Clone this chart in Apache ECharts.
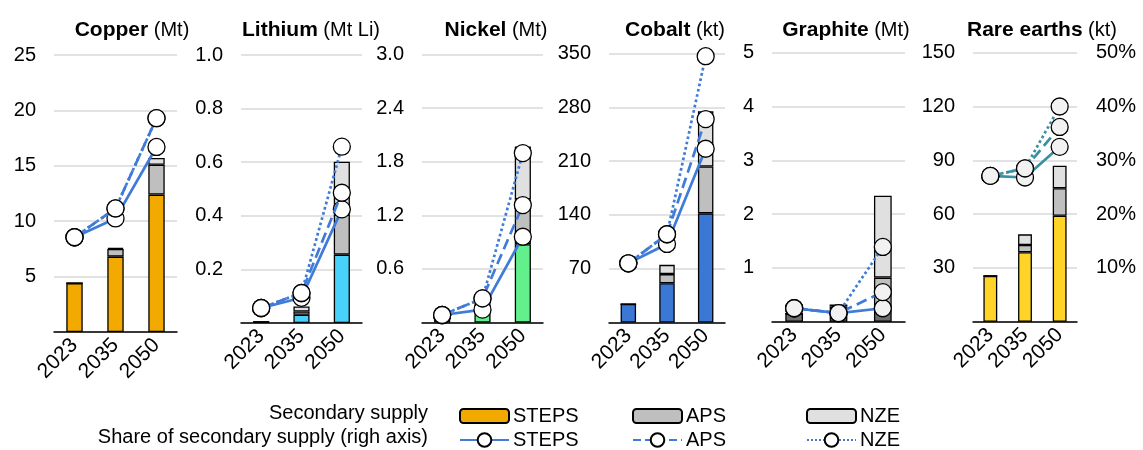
<!DOCTYPE html>
<html>
<head>
<meta charset="utf-8">
<script src="https://cdn.jsdelivr.net/npm/echarts@6/dist/echarts.min.js"></script>
<style>html,body{margin:0;padding:0;background:#fff}#c{width:1143px;height:450px}</style>
</head>
<body>
<div id="c"></div>
<script>
// ---- DATA ----
const years = ['2023', '2035', '2050'];

const copperSteps = [4.4, 6.8, 12.4];
const copperAps = [4.4, 7.5, 15.1];
const copperNze = [4.4, 7.6, 15.7];
const copperShareSteps = [17.1, 20.5, 33.4];
const copperShareAps = [17.1, 22.3, 38.6];
const copperShareNze = [17.1, 22.3, 38.6];

const lithiumSteps = [0.004, 0.031, 0.255];
const lithiumAps = [0.004, 0.043, 0.404];
const lithiumNze = [0.004, 0.062, 0.602];
const lithiumShareSteps = [2.8, 4.7, 21.2];
const lithiumShareAps = [2.8, 5.6, 24.3];
const lithiumShareNze = [2.8, 5.6, 32.9];

const nickelSteps = [0.05, 0.12, 0.877];
const nickelAps = [0.05, 0.2, 1.38];
const nickelNze = [0.05, 0.3, 1.97];
const nickelShareSteps = [1.4, 2.4, 16.0];
const nickelShareAps = [1.4, 4.5, 21.9];
const nickelShareNze = [1.4, 4.5, 31.6];

const cobaltSteps = [24, 51, 142];
const cobaltAps = [24, 63, 203];
const cobaltNze = [24, 75, 275];
const cobaltShareSteps = [11.0, 14.6, 32.3];
const cobaltShareAps = [11.0, 16.4, 37.8];
const cobaltShareNze = [11.0, 16.4, 49.5];

const graphiteSteps = [0.15, 0.22, 0.31];
const graphiteAps = [0.15, 0.28, 0.82];
const graphiteNze = [0.15, 0.32, 2.34];
const graphiteShareSteps = [2.5, 1.6, 2.5];
const graphiteShareAps = [2.5, 1.6, 5.5];
const graphiteShareNze = [2.5, 1.6, 13.9];

const reSteps = [25.5, 38.7, 59.1];
const reAps = [25.5, 42.8, 74.4];
const reNze = [25.5, 48.7, 87.0];
const reShareSteps = [27.1, 26.8, 32.5];
const reShareAps = [27.1, 28.5, 36.2];
const reShareNze = [27.1, 28.5, 40.0];

const panelNames = ['Copper', 'Lithium', 'Nickel', 'Cobalt', 'Graphite', 'Rare earths'];
const panelUnits = ['(Mt)', '(Mt Li)', '(Mt)', '(kt)', '(Mt)', '(kt)'];
const leftMax = [25, 1.0, 3.0, 350, 5, 150];
const leftInterval = [5, 0.2, 0.6, 70, 1, 30];
const leftDecimals = [0, 1, 1, 0, 0, 0];
const shareTicks = [0, 10, 20, 30, 40, 50];
const scenarioNames = ['STEPS', 'APS', 'NZE'];
const sectionLabels = ['Secondary supply', 'Share of secondary supply (righ axis)'];

// ---- LAYOUT / STYLE ----
const FONT = '"Liberation Sans", Arial, sans-serif';
const grids = [
  {left: 54, top: 55, width: 123, height: 277},
  {left: 241, top: 55, width: 121, height: 268},
  {left: 422, top: 54.5, width: 121, height: 268},
  {left: 609, top: 53.5, width: 116, height: 269},
  {left: 772, top: 52.7, width: 133, height: 269},
  {left: 973, top: 52.7, width: 104, height: 269}
];
const titleCenters = [127, 306, 491, 670, 841, 1037];
const stepsColors = ['#F2A900', '#48D1FA', '#63F08C', '#3B78D6', '#6E6E6E', '#FFD426'];
const apsColor = '#BFBFBF';
const nzeColor = '#E0E0E0';
const lineColors = ['#3F7BD8', '#3F7BD8', '#3F7BD8', '#3F7BD8', '#3F7BD8', '#3890A3'];
const dotFill = ['#FFFFFF', '#FFFFFF', '#FFFFFF', '#FFFFFF', '#F2F2F2', '#F2F2F2'];

const panels = [
  [copperSteps, copperAps, copperNze, copperShareSteps, copperShareAps, copperShareNze],
  [lithiumSteps, lithiumAps, lithiumNze, lithiumShareSteps, lithiumShareAps, lithiumShareNze],
  [nickelSteps, nickelAps, nickelNze, nickelShareSteps, nickelShareAps, nickelShareNze],
  [cobaltSteps, cobaltAps, cobaltNze, cobaltShareSteps, cobaltShareAps, cobaltShareNze],
  [graphiteSteps, graphiteAps, graphiteNze, graphiteShareSteps, graphiteShareAps, graphiteShareNze],
  [reSteps, reAps, reNze, reShareSteps, reShareAps, reShareNze]
];

const xAxes = [], yAxes = [], series = [], titles = [];
panels.forEach((p, i) => {
  xAxes.push({
    type: 'category', gridIndex: i, data: years, boundaryGap: true,
    axisLine: {lineStyle: {color: '#000', width: 1.5}},
    axisTick: {show: false},
    axisLabel: {rotate: 45, interval: 0, hideOverlap: false, fontSize: 21, fontFamily: FONT, color: '#000', margin: 10}
  });
  yAxes.push({
    type: 'value', gridIndex: i, position: 'left', min: 0, max: leftMax[i], interval: leftInterval[i],
    axisLine: {show: false}, axisTick: {show: false},
    splitLine: {lineStyle: {color: '#D9D9D9', width: 1.5}},
    axisLabel: {fontSize: 20, fontFamily: FONT, color: '#000', margin: 18, showMinLabel: false,
      formatter: v => v.toFixed(leftDecimals[i])}
  });
  yAxes.push({
    type: 'value', gridIndex: i, position: 'right', min: shareTicks[0], max: shareTicks[shareTicks.length - 1], interval: 10,
    axisLine: {show: false}, axisTick: {show: false}, splitLine: {show: false},
    axisLabel: {show: i === panels.length - 1, fontSize: 20, fontFamily: FONT, color: '#000', margin: 19,
      showMinLabel: false, formatter: '{value}%'}
  });
  titles.push({
    text: '{b|' + panelNames[i] + '}{n| ' + panelUnits[i] + '}',
    left: titleCenters[i], top: 15, textAlign: 'center',
    textStyle: {fontWeight: 'normal', rich: {
      b: {fontSize: 21, fontWeight: 'bold', fontFamily: FONT, color: '#000'},
      n: {fontSize: 20, fontWeight: 'normal', fontFamily: FONT, color: '#000'}
    }}
  });
  const [s, a, n, ss, sa, sn] = p;
  const barCommon = {
    type: 'bar', xAxisIndex: i, yAxisIndex: 2 * i, stack: 'p' + i, barWidth: '40%', z: 2
  };
  series.push(Object.assign({}, barCommon, {
    name: 'STEPS', data: s,
    itemStyle: {color: stepsColors[i], borderColor: '#000', borderWidth: 1.3}
  }));
  series.push(Object.assign({}, barCommon, {
    name: 'APS', data: a.map((v, k) => +(v - s[k]).toFixed(4)),
    itemStyle: {color: apsColor, borderColor: '#000', borderWidth: 1.3}
  }));
  series.push(Object.assign({}, barCommon, {
    name: 'NZE', data: n.map((v, k) => +(v - a[k]).toFixed(4)),
    itemStyle: {color: nzeColor, borderColor: '#000', borderWidth: 1.3}
  }));
  const lineTypes = ['solid', 'dashed', 'dotted'];
  [ss, sa, sn].forEach((d, k) => {
    series.push({
      type: 'line', name: scenarioNames[k] + ' share', xAxisIndex: i, yAxisIndex: 2 * i + 1,
      data: d, z: 5 + k, symbol: 'circle', symbolSize: 17,
      lineStyle: {color: lineColors[i], width: 2.7, type: lineTypes[k]},
      itemStyle: {color: dotFill[i], borderColor: '#000', borderWidth: 1.3},
      emphasis: {disabled: true}
    });
  });
});

const legendX = [454, 627, 801];
const legends = [];
scenarioNames.forEach((nm, k) => {
  legends.push({
    left: legendX[k], top: 401, itemWidth: 49, itemHeight: 14, itemGap: 0,
    data: [nm], selectedMode: false,
    textStyle: {fontSize: 20, fontFamily: FONT, color: '#000', padding: [0, 0, 0, -1]}
  });
  legends.push({
    left: legendX[k], top: 425, itemWidth: 49, itemHeight: 17, itemGap: 0,
    data: [nm + ' share'], selectedMode: false,
    formatter: name => name.replace(' share', ''),
    textStyle: {fontSize: 20, fontFamily: FONT, color: '#000', padding: [0, 0, 0, -1]}
  });
});

const chart = echarts.init(document.getElementById('c'), null, {renderer: 'canvas'});
chart.setOption({
  backgroundColor: '#fff',
  animation: false,
  title: titles,
  grid: grids,
  xAxis: xAxes,
  yAxis: yAxes,
  legend: legends,
  series: series,
  graphic: [
    {type: 'text', right: 1143 - 428, top: 403,
      style: {text: sectionLabels[0], font: '20px ' + FONT, fill: '#000'}},
    {type: 'text', right: 1143 - 428, top: 427,
      style: {text: sectionLabels[1], font: '20px ' + FONT, fill: '#000'}}
  ]
});
</script>
</body>
</html>
